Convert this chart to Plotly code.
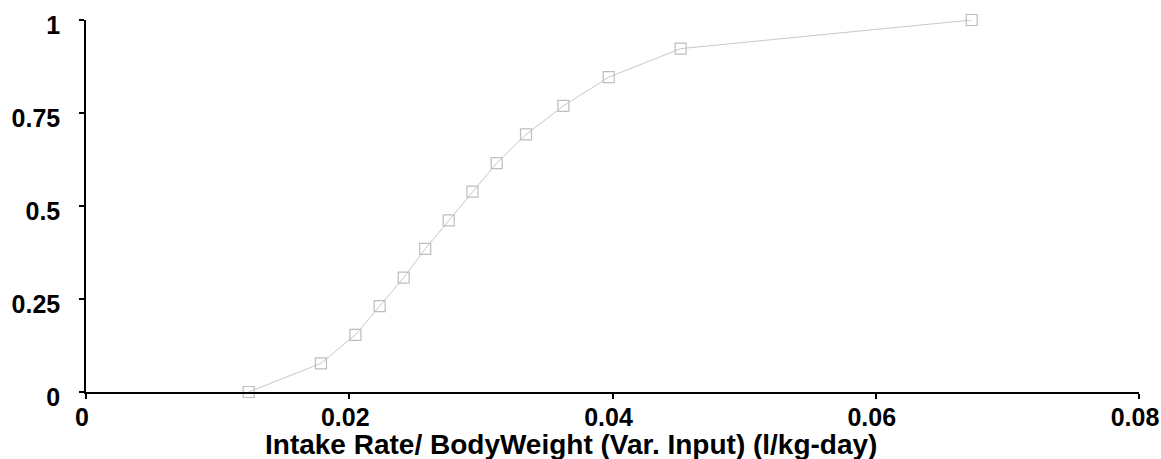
import plotly.graph_objects as go

# Cumulative distribution of intake rate per body weight
intake_rate = [0.01236, 0.01785, 0.02047, 0.02231, 0.02414, 0.02577, 0.02756,
               0.02936, 0.03120, 0.03343, 0.03627, 0.03971, 0.04518, 0.06729]
cum_prob = [0.0, 0.0769, 0.1538, 0.2308, 0.3077, 0.3846, 0.4615,
            0.5385, 0.6154, 0.6923, 0.7692, 0.8462, 0.9231, 1.0]

x_ticks = [0, 0.02, 0.04, 0.06, 0.08]
x_tick_text = ["0", "0.02", "0.04", "0.06", "0.08"]
y_ticks = [0, 0.25, 0.5, 0.75, 1]
y_tick_text = ["0", "0.25", "0.5", "0.75", "1"]
x_title = "Intake Rate/ BodyWeight (Var. Input) (l/kg-day)"

FONT = "Liberation Sans, Arial, sans-serif"

fig = go.Figure(
    go.Scatter(
        x=intake_rate,
        y=cum_prob,
        mode="lines+markers",
        line=dict(color="#c8c8c8", width=1),
        marker=dict(symbol="square-open", size=11, color="#bdbdbd",
                    line=dict(width=1.2, color="#bdbdbd")),
        cliponaxis=False,
        showlegend=False,
    )
)

fig.update_layout(
    template="none",
    width=1161,
    height=459,
    margin=dict(l=86, r=22, t=20, b=67, autoexpand=False),
    paper_bgcolor="white",
    plot_bgcolor="white",
    font=dict(family=FONT, color="black"),
)

axis_common = dict(
    showgrid=False,
    zeroline=False,
    showline=True,
    linecolor="black",
    linewidth=1.5,
    ticks="outside",
    ticklen=5,
    tickwidth=1.5,
    tickcolor="black",
    automargin=False,
    tickfont=dict(family=FONT, size=25, color="black", weight="bold"),
)

fig.update_xaxes(
    range=[0, 0.08],
    tickmode="array",
    tickvals=x_ticks,
    ticktext=x_tick_text,
    ticklabeloverflow="allow",
    ticklabelstandoff=-3,
    ticklabelshift=-4,
    **axis_common,
)

fig.update_yaxes(
    range=[0, 1],
    tickmode="array",
    tickvals=y_ticks,
    ticktext=y_tick_text,
    ticklabelstandoff=14,
    ticklabelshift=5,
    **axis_common,
)

# Axis title placed as an annotation below the tick labels
fig.add_annotation(
    text=f"<b>{x_title}</b>",
    xref="paper", yref="paper",
    x=0.4603, y=-0.142,
    xanchor="center", yanchor="middle",
    showarrow=False,
    font=dict(family=FONT, size=28, color="black"),
)

fig.write_html("out.html")
